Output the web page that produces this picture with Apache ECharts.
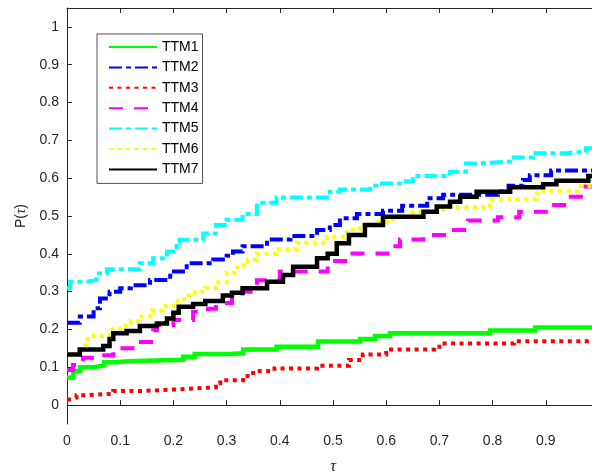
<!DOCTYPE html>
<html>
<head>
<meta charset="utf-8">
<script src="https://cdn.jsdelivr.net/npm/echarts@6/dist/echarts.min.js"></script>
<style>
html,body{margin:0;padding:0;background:#fff;}
#main{width:592px;height:475px;}
</style>
</head>
<body>
<div id="main"></div>
<script>
// performance profile, step curves
var names = ['TTM1','TTM2','TTM3','TTM4','TTM5','TTM6','TTM7'];
var yTicks = [0,0.1,0.2,0.3,0.4,0.5,0.6,0.7,0.8,0.9,1];

var ttm1 = [[0,0.073],[0.012,0.09],[0.025,0.1],[0.05,0.105],[0.07,0.113],[0.09,0.116],[0.115,0.12],[0.218,0.128],[0.24,0.135],[0.306,0.137],[0.331,0.147],[0.394,0.154],[0.472,0.168],[0.551,0.175],[0.579,0.183],[0.607,0.19],[0.795,0.197],[0.88,0.205],[1,0.205]];
var ttm2 = [[0,0.218],[0.024,0.234],[0.05,0.256],[0.062,0.282],[0.08,0.3],[0.1,0.309],[0.12,0.317],[0.156,0.331],[0.194,0.353],[0.225,0.375],[0.275,0.385],[0.3,0.395],[0.312,0.406],[0.33,0.42],[0.376,0.438],[0.42,0.447],[0.47,0.463],[0.494,0.476],[0.513,0.494],[0.545,0.505],[0.594,0.514],[0.63,0.527],[0.677,0.547],[0.707,0.556],[0.81,0.565],[0.83,0.58],[0.857,0.595],[0.87,0.608],[0.91,0.62],[1,0.62]];
var ttm3 = [[0,0.015],[0.012,0.02],[0.018,0.026],[0.034,0.03],[0.087,0.037],[0.137,0.042],[0.212,0.047],[0.28,0.058],[0.288,0.066],[0.331,0.077],[0.35,0.09],[0.39,0.097],[0.47,0.104],[0.53,0.119],[0.556,0.134],[0.6,0.147],[0.69,0.154],[0.7,0.163],[0.84,0.169],[1,0.169]];
var ttm4 = [[0,0.093],[0.011,0.106],[0.03,0.125],[0.06,0.132],[0.087,0.141],[0.096,0.15],[0.13,0.167],[0.162,0.198],[0.169,0.212],[0.2,0.225],[0.237,0.247],[0.265,0.255],[0.28,0.27],[0.31,0.285],[0.33,0.3],[0.345,0.316],[0.357,0.33],[0.4,0.353],[0.49,0.381],[0.53,0.401],[0.61,0.42],[0.626,0.438],[0.67,0.45],[0.716,0.463],[0.754,0.488],[0.81,0.497],[0.85,0.511],[0.9,0.529],[0.94,0.551],[0.97,0.578],[1,0.578]];
var ttm5 = [[0,0.309],[0.006,0.326],[0.037,0.331],[0.056,0.348],[0.075,0.359],[0.137,0.375],[0.162,0.388],[0.188,0.406],[0.206,0.428],[0.212,0.437],[0.256,0.454],[0.28,0.476],[0.3,0.49],[0.33,0.505],[0.357,0.535],[0.394,0.549],[0.494,0.564],[0.513,0.57],[0.57,0.58],[0.588,0.586],[0.63,0.592],[0.65,0.606],[0.72,0.617],[0.75,0.639],[0.776,0.644],[0.833,0.655],[0.876,0.666],[0.94,0.67],[0.975,0.679],[1,0.679]];
var ttm6 = [[0,0.135],[0.02,0.145],[0.035,0.175],[0.05,0.183],[0.08,0.2],[0.1,0.21],[0.12,0.222],[0.14,0.235],[0.16,0.25],[0.18,0.262],[0.2,0.275],[0.22,0.29],[0.24,0.3],[0.26,0.31],[0.28,0.325],[0.3,0.35],[0.32,0.37],[0.34,0.385],[0.357,0.4],[0.394,0.412],[0.432,0.429],[0.489,0.445],[0.526,0.463],[0.55,0.474],[0.583,0.485],[0.613,0.498],[0.65,0.511],[0.707,0.523],[0.795,0.544],[0.883,0.56],[0.89,0.567],[0.96,0.579],[1,0.579]];
var ttm7 = [[0,0.134],[0.024,0.147],[0.068,0.156],[0.08,0.175],[0.087,0.19],[0.112,0.196],[0.137,0.209],[0.169,0.216],[0.188,0.229],[0.2,0.244],[0.21,0.26],[0.237,0.267],[0.26,0.275],[0.293,0.29],[0.31,0.297],[0.33,0.309],[0.376,0.326],[0.406,0.344],[0.425,0.366],[0.47,0.388],[0.49,0.4],[0.507,0.428],[0.53,0.45],[0.56,0.476],[0.594,0.498],[0.67,0.511],[0.695,0.525],[0.72,0.538],[0.739,0.551],[0.77,0.564],[0.833,0.576],[0.895,0.584],[0.92,0.593],[0.98,0.606],[1,0.606]];

var allData = [ttm1,ttm2,ttm3,ttm4,ttm5,ttm6,ttm7];
var colors = ['#00ff00','#0000ff','#ff0000','#ff00ff','#00ffff','#ffff00','#000000'];
var widths = [4.5,4,4,4,4,4,4.5];
var dashes = ['solid',[13,4,5,4],[4,4.5],[14,11],[13,4,5,4],[4,4.5],'solid'];

var axisColor = '#262626';
var font = 'Liberation Sans';

var myChart = echarts.init(document.getElementById('main'));

var series = [];
for (var i = 0; i < names.length; i++) {
    series.push({
        name: names[i],
        type: 'line',
        step: 'end',
        symbol: 'none',
        animation: false,
        data: allData[i],
        lineStyle: {
            color: colors[i],
            width: widths[i],
            type: dashes[i],
            cap: 'butt',
            join: 'miter'
        },
        itemStyle: {color: colors[i]}
    });
}

var option = {
    backgroundColor: '#fff',
    animation: false,
    grid: {left: 67, top: 8, width: 532, height: 416, outerBoundsMode: 'none', containLabel: false},
    legend: {
        data: names,
        orient: 'vertical',
        left: 97,
        top: 34,
        padding: [6, 4, 7, 11],
        itemWidth: 48,
        itemHeight: 14,
        itemGap: 6.4,
        backgroundColor: '#fff',
        borderColor: axisColor,
        borderWidth: 0.8,
        itemStyle: {opacity: 0},
        textStyle: {fontFamily: font, fontSize: 14, color: '#000', lineHeight: 14}
    },
    xAxis: [{
        type: 'value',
        min: 0,
        max: 1,
        interval: 0.1,
        position: 'bottom',
        name: 'τ',
        nameLocation: 'middle',
        nameGap: 35,
        nameTextStyle: {fontFamily: 'Liberation Serif', fontStyle: 'italic', fontSize: 16, color: axisColor},
        axisLine: {lineStyle: {color: axisColor, width: 1}},
        axisTick: {inside: true, length: 5, lineStyle: {color: axisColor}},
        axisLabel: {fontFamily: font, fontSize: 14, color: axisColor, margin: 10},
        splitLine: {show: false}
    }, {
        type: 'value',
        min: 0,
        max: 1,
        interval: 0.1,
        position: 'top',
        axisLine: {lineStyle: {color: axisColor, width: 1}},
        axisTick: {inside: true, length: 5, lineStyle: {color: axisColor}},
        axisLabel: {show: false},
        splitLine: {show: false}
    }],
    yAxis: {
        type: 'value',
        min: -0.05,
        max: 1.05,
        name: '{a|P(}{b|τ}{a|)}',
        nameLocation: 'middle',
        nameGap: 37,
        nameTextStyle: {
            color: axisColor,
            rich: {
                a: {fontFamily: font, fontSize: 14, color: axisColor},
                b: {fontFamily: 'Liberation Serif', fontStyle: 'italic', fontSize: 15, color: axisColor}
            }
        },
        axisLine: {show: true, lineStyle: {color: axisColor, width: 1}},
        axisTick: {show: true, inside: true, length: 5, customValues: yTicks, lineStyle: {color: axisColor}},
        axisLabel: {fontFamily: font, fontSize: 14, color: axisColor, margin: 8, customValues: yTicks,
            formatter: function (v) { return String(Math.round(v * 10) / 10); }},
        splitLine: {show: false}
    },
    series: series
};
myChart.setOption(option);
</script>
</body>
</html>
